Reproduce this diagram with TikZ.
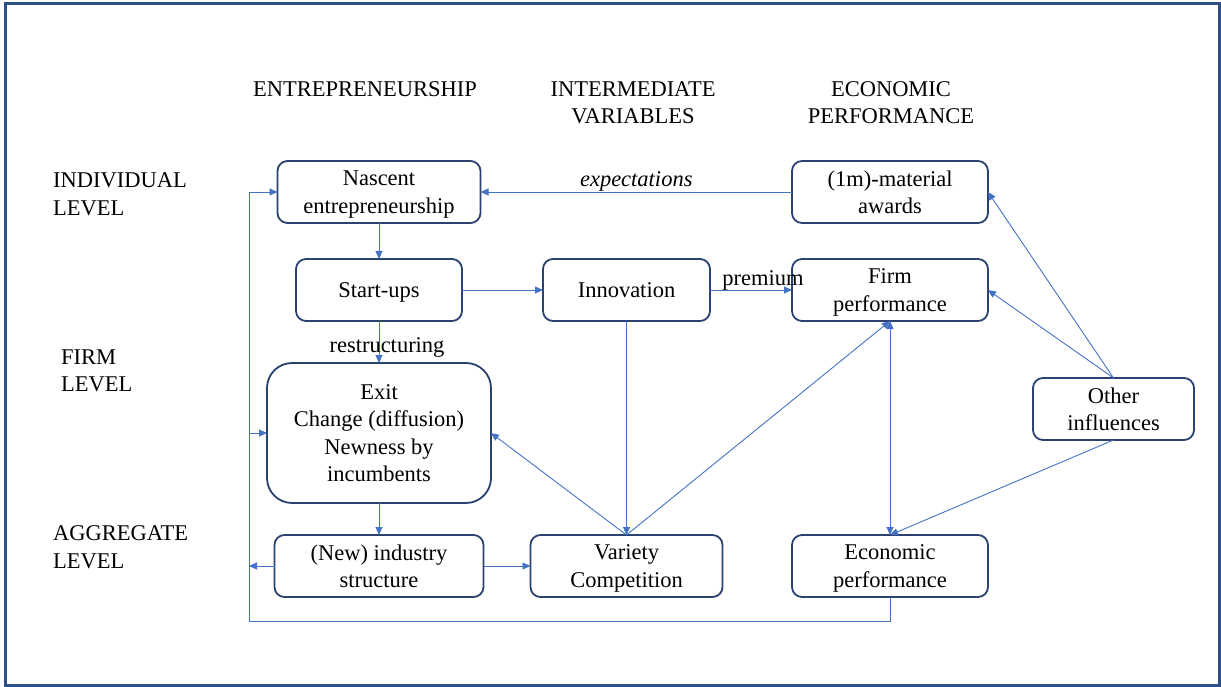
\documentclass[tikz,border=0pt]{standalone}
\usepackage{fontspec}
\setmainfont{Liberation Serif}
\usetikzlibrary{arrows.meta, positioning}
\definecolor{frameblue}{HTML}{2F5086}
\definecolor{boxnavy}{HTML}{2B4270}
\definecolor{linkblue}{HTML}{4472C4}
\newcommand{\diagfont}{\fontsize{22.5}{27.5}\selectfont}
\tikzset{
  blk/.style={rectangle, rounded corners=10pt, draw=boxnavy, line width=1.8pt,
    align=center, minimum height=62pt, inner sep=2pt, outer sep=0pt,
    text depth=0pt, font=\diagfont},
  head/.style={align=center, inner sep=0pt, font=\diagfont},
  lvl/.style={align=left, anchor=west, inner sep=0pt, font=\diagfont},
  lbl/.style={inner sep=0pt, text=black, font=\diagfont},
  ar/.style={-{Triangle[length=8pt,width=7pt]}, line width=0.9pt, linkblue},
  dar/.style={{Triangle[length=8pt,width=7pt]}-{Triangle[length=8pt,width=7pt]},
    line width=0.9pt, linkblue},
}

\begin{document}
\begin{tikzpicture}[x=1pt, y=-1pt]
  \useasboundingbox (0,0) rectangle (1221,687);
  \draw[frameblue, line width=3pt] (5.5,3.5) rectangle (1219,685.5);

  % column and row headings
  \node[head] (hentre) at (365,89) {ENTREPRENEURSHIP};
  \node[head] (hinter) at (633,102.5) {INTERMEDIATE\\VARIABLES};
  \node[head] (hecon) at (891,102.5) {ECONOMIC\\PERFORMANCE};
  \node[lvl] (lindiv) at (53,194) {INDIVIDUAL\\LEVEL};
  \node[lvl] (lfirm) at (61,371) {FIRM\\LEVEL};
  \node[lvl] (laggr) at (53,547) {AGGREGATE\\LEVEL};

  % entrepreneurship column
  \node[blk, minimum width=203pt] (nascent) at (379,192) {Nascent\\entrepreneurship};
  \node[blk, minimum width=166pt, below=36pt of nascent] (startups) {Start-ups};
  \node[blk, minimum width=224pt, minimum height=140pt, rounded corners=25pt,
        below=42pt of startups] (exitbox)
    {Exit\\Change (diffusion)\\Newness by\\incumbents};
  \node[blk, minimum width=209pt, below=32pt of exitbox] (industry) {(New) industry\\structure};

  % intermediate column
  \node[blk, minimum width=167pt, right=81pt of startups] (innovation) {Innovation};
  \node[blk, minimum width=192pt] (variety) at (innovation |- industry) {Variety\\Competition};

  % performance column
  \node[blk, minimum width=196pt] (awards) at (890,192) {(1m)-material\\awards};
  \node[blk, minimum width=196pt, below=36pt of awards] (firmperf) {Firm\\performance};
  \node[blk, minimum width=196pt] (econperf) at (890,566) {Economic\\performance};
  \node[blk, minimum width=161pt] (other) at (1113.5,409) {Other\\influences};

  % feedback loop on the left
  \coordinate (lbot) at (249,621);
  \draw[ar] (econperf.south) |- (lbot) |- (nascent.west);
  \draw[ar] (lbot |- exitbox.west) -- (exitbox.west);
  \draw[ar] (industry.west) -- (industry.west -| lbot);

  % main links
  \draw[ar] (awards.west) -- node[lbl, yshift=11pt] {\itshape expectations} (nascent.east);
  \draw[ar] (nascent.south -| startups.north) -- (startups.north);
  \draw[ar] (startups.south) -- node[lbl, xshift=8pt, yshift=-5pt] {restructuring} (exitbox.north);
  \draw[ar] (startups.east) -- (innovation.west);
  \draw[ar] (innovation.east) -- node[lbl, xshift=12pt, yshift=10pt] {premium} (firmperf.west);
  \draw[ar] (exitbox.south) -- (industry.north);
  \draw[ar] (industry.east) -- (variety.west);
  \draw[ar] (innovation.south) -- (variety.north);
  \draw[ar] (variety.north) -- (exitbox.east);
  \draw[ar] (variety.north) -- (firmperf.south);
  \draw[dar] (firmperf.south) -- (econperf.north);
  \draw[ar] (other.north) -- (awards.east);
  \draw[ar] (other.north) -- (firmperf.east);
  \draw[ar] (other.south) -- (econperf.north);
\end{tikzpicture}
\end{document}
